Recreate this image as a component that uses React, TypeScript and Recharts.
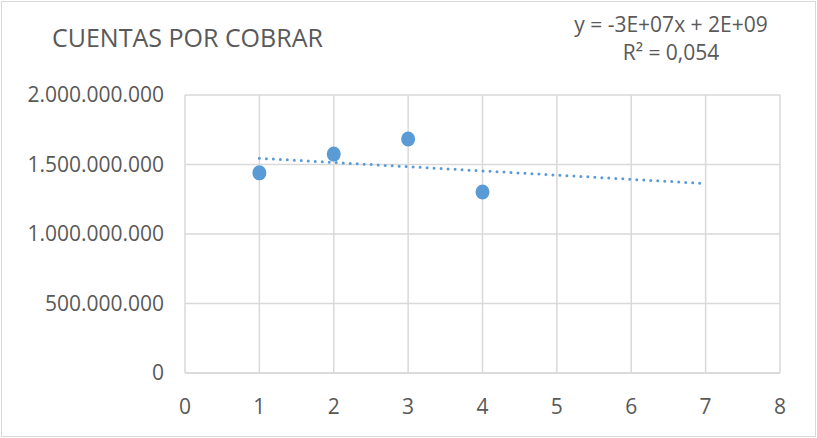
import { ScatterChart, Scatter, XAxis, YAxis, CartesianGrid } from "recharts";

// Cuentas por cobrar (periodo vs valor)
const periods = [1, 2, 3, 4];
const amounts = [1440000000, 1575000000, 1683000000, 1302000000];

// linear trend line as drawn by Excel
const trendX = [1, 7];
const trendY = [1545000000, 1363000000];

const xTicks = [0, 1, 2, 3, 4, 5, 6, 7, 8];
const yTicks = [0, 500000000, 1000000000, 1500000000, 2000000000];

const title = "CUENTAS POR COBRAR";
const equation = "y = -3E+07x + 2E+09";
const rSquared = "R² = 0,054";

const blue = "#5B9BD5";
const grey = "#595959";
const font = "'Open Sans', sans-serif";

const points = periods.map((x, i) => ({ x, y: amounts[i] }));
const trend = trendX.map((x, i) => ({ x, y: trendY[i] }));

const formatThousands = (v: number) =>
  String(Math.round(v)).replace(/\B(?=(\d{3})+(?!\d))/g, ".");

const Dot = (props: any) => {
  const { cx, cy } = props;
  if (cx == null || cy == null) return <g />;
  return <ellipse cx={cx} cy={cy} rx={7} ry={7.5} fill={blue} />;
};

const App = () => {
  return (
    <div
      style={{
        position: "fixed",
        left: 0,
        top: 0,
        width: 817,
        height: 438,
        background: "#fff",
        fontFamily: font,
      }}
    >
      <ScatterChart
        width={817}
        height={438}
        margin={{ top: 95, right: 37, bottom: 0, left: 0 }}
      >
        <CartesianGrid stroke="#d9d9d9" strokeWidth={1.5} />
        <XAxis
          type="number"
          dataKey="x"
          domain={[0, 8]}
          ticks={xTicks}
          interval={0}
          height={65}
          axisLine={{ stroke: "#d9d9d9", strokeWidth: 1.5 }}
          tickLine={false}
          tickSize={0}
          tickMargin={26}
          tick={{ fill: grey, fontSize: 21, fontFamily: font }}
        />
        <YAxis
          type="number"
          dataKey="y"
          domain={[0, 2000000000]}
          ticks={yTicks}
          interval={0}
          width={185}
          axisLine={false}
          tickLine={false}
          tickSize={0}
          tickMargin={21}
          tickFormatter={formatThousands}
          tick={{ fill: grey, fontSize: 21, fontFamily: font }}
        />
        <Scatter
          data={trend}
          isAnimationActive={false}
          line={{
            stroke: blue,
            strokeWidth: 3,
            strokeDasharray: "0 7",
            strokeLinecap: "round",
          }}
          shape={() => <g />}
        />
        <Scatter data={points} isAnimationActive={false} shape={Dot} />
      </ScatterChart>

      <div
        style={{
          position: "absolute",
          left: 1,
          top: 1,
          width: 813,
          height: 434,
          border: "1px solid #d9d9d9",
          pointerEvents: "none",
        }}
      />
      <div
        style={{
          position: "absolute",
          left: 52,
          top: 25,
          fontSize: 25,
          lineHeight: "25px",
          color: grey,
          whiteSpace: "nowrap",
        }}
      >
        {title}
      </div>
      <div
        style={{
          position: "absolute",
          left: 561,
          top: 10,
          width: 220,
          fontSize: 21,
          lineHeight: "28px",
          color: grey,
          textAlign: "center",
          whiteSpace: "nowrap",
        }}
      >
        <div>{equation}</div>
        <div>{rSquared}</div>
      </div>
    </div>
  );
};

export default App;
